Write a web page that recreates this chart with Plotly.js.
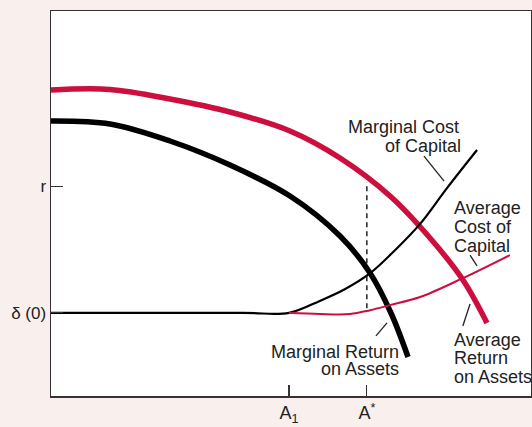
<!DOCTYPE html>
<html>
<head>
<meta charset="utf-8">
<script src="https://cdn.plot.ly/plotly-3.0.1.min.js"></script>
<style>
  html, body { margin: 0; padding: 0; background: #f9efec; }
  #chart { width: 532px; height: 427px; }
</style>
</head>
<body>
<div id="chart"></div>
<script>
// values (x: assets, y: rate), arbitrary units 0..10
const araX = [0, 1.229, 2.479, 3.729, 4.979, 6.021, 7.063, 7.896, 8.583, 9.083];
const araY = [7.948, 7.961, 7.714, 7.377, 6.883, 6.182, 5.195, 4.104, 3.013, 1.896];

const mraX = [0, 1.229, 2.479, 3.729, 4.979, 6.021, 6.646, 7.083, 7.438];
const mraY = [7.143, 7.065, 6.623, 6.0, 5.195, 4.156, 3.195, 2.156, 1.013];

const mccX = [0, 4.0, 4.96, 5.60, 6.13, 6.65, 7.17, 7.69, 8.25, 8.875];
const mccY = [2.16, 2.16, 2.16, 2.47, 2.78, 3.19, 3.79, 4.47, 5.40, 6.39];

const accX = [4.96, 5.60, 6.23, 6.65, 7.06, 7.69, 8.58, 9.56];
const accY = [2.16, 2.13, 2.13, 2.23, 2.36, 2.57, 3.06, 3.66];

const yTickVals = [2.16, 5.45];
const yTickText = ['δ (0)', 'r'];
const xTickVals = [4.96, 6.58];
const xTickText = ['A<sub>1</sub>', 'A<sup>*</sup>'];

// dashed drop line at A*
const aStar = xTickVals[1];
const dashTop = 5.56;
const dashBottom = 2.28;

const red = '#cc0f3e';
const ink = '#222222';
const fontFamily = 'Liberation Sans, Arial, sans-serif';

const traces = [
  { x: [aStar, aStar], y: [dashBottom, dashTop], mode: 'lines', line: { color: ink, width: 1.5, dash: '5px,4px' }, hoverinfo: 'skip' },
  { x: araX, y: araY, mode: 'lines', line: { color: red, width: 5.5, shape: 'spline' }, hoverinfo: 'skip' },
  { x: mraX, y: mraY, mode: 'lines', line: { color: '#000', width: 5.5, shape: 'spline' }, hoverinfo: 'skip' },
  { x: mccX, y: mccY, mode: 'lines', line: { color: '#000', width: 2.2, shape: 'spline' }, hoverinfo: 'skip' },
  { x: accX, y: accY, mode: 'lines', line: { color: red, width: 2, shape: 'spline' }, hoverinfo: 'skip' }
];

const txt = (text, x, y, xanchor) => ({
  text, x, y, xref: 'x', yref: 'y', xanchor, yanchor: 'middle', showarrow: false, borderpad: 0,
  font: { family: fontFamily, size: 18, color: ink }
});

const annotations = [
  txt('Marginal Cost', 8.52, 6.99, 'right'),
  txt('of Capital', 8.56, 6.49, 'right'),
  txt('Average', 8.375, 4.88, 'left'),
  txt('Cost of', 8.375, 4.39, 'left'),
  txt('Capital', 8.375, 3.90, 'left'),
  txt('Average', 8.375, 1.45, 'left'),
  txt('Return', 8.375, 0.99, 'left'),
  txt('on Assets', 8.375, 0.49, 'left'),
  txt('Marginal Return', 7.27, 1.14, 'right'),
  txt('on Assets', 7.27, 0.70, 'right')
];

const leader = (x0, y0, x1, y1) => ({
  type: 'line', xref: 'x', yref: 'y', x0, y0, x1, y1, line: { color: ink, width: 1.3 }
});

const shapes = [
  leader(7.77, 6.23, 8.19, 5.58),
  leader(8.73, 3.66, 8.875, 3.38),
  leader(8.73, 2.39, 8.58, 1.82),
  leader(7.0, 1.90, 6.77, 1.56)
];

const layout = {
  width: 532,
  height: 427,
  paper_bgcolor: '#f9efec',
  plot_bgcolor: '#ffffff',
  showlegend: false,
  margin: { l: 51, r: 1, t: 11, b: 31, pad: 0 },
  font: { family: fontFamily, size: 17, color: ink },
  xaxis: {
    range: [0, 10], showgrid: false, zeroline: false,
    showline: true, mirror: true, linecolor: '#333', linewidth: 1.5,
    tickmode: 'array', tickvals: xTickVals, ticktext: xTickText,
    ticks: 'inside', ticklen: 11, tickwidth: 1.3, tickcolor: '#333',
    tickfont: { size: 18 }
  },
  yaxis: {
    range: [0, 10], showgrid: false, zeroline: false,
    showline: true, mirror: true, linecolor: '#333', linewidth: 1.5,
    tickmode: 'array', tickvals: yTickVals, ticktext: yTickText,
    ticks: 'inside', ticklen: 12, tickwidth: 1.3, tickcolor: '#333'
  },
  annotations,
  shapes
};

Plotly.newPlot('chart', traces, layout, { staticPlot: true });
</script>
</body>
</html>
